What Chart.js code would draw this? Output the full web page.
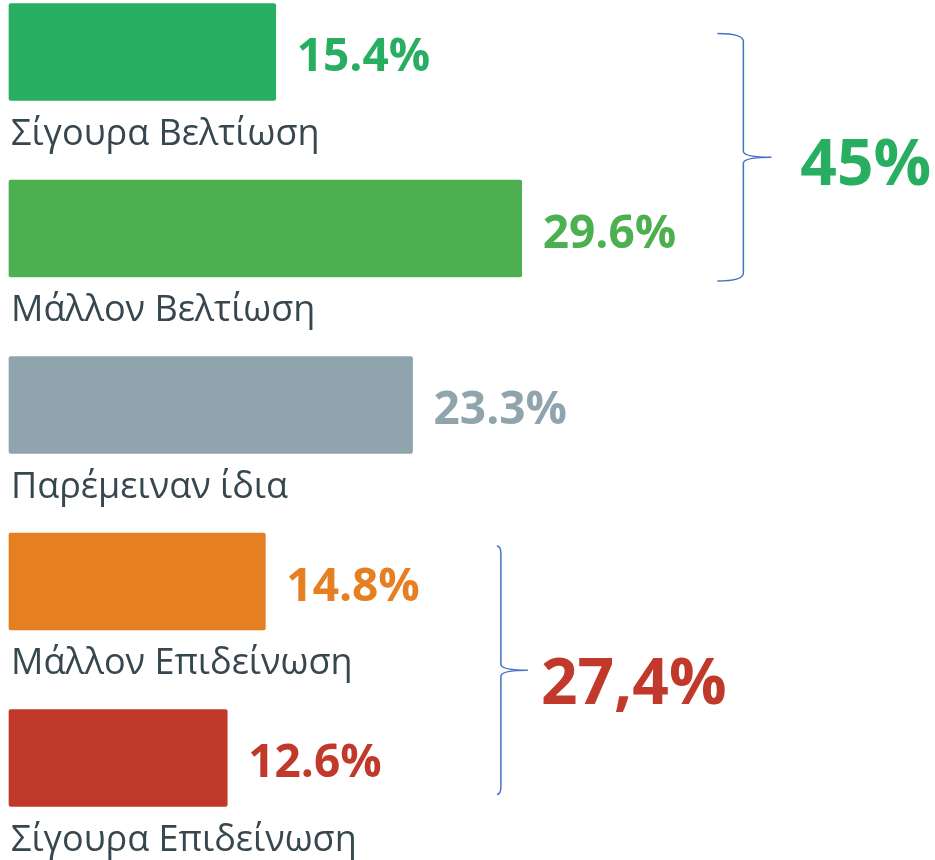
<!DOCTYPE html>
<html>
<head>
<meta charset="utf-8">
<script src="https://cdn.jsdelivr.net/npm/chart.js@4/dist/chart.umd.min.js"></script>
<style>
  html, body { margin: 0; padding: 0; background: #fff; }
  #wrap { width: 935px; height: 860px; }
</style>
</head>
<body>
<div id="wrap"><canvas id="myChart"></canvas></div>
<script>
// data
const categories = ["Σίγουρα Βελτίωση", "Μάλλον Βελτίωση", "Παρέμειναν ίδια", "Μάλλον Επιδείνωση", "Σίγουρα Επιδείνωση"];
const values = [15.4, 29.6, 23.3, 14.8, 12.6];
const valueLabels = ["15.4%", "29.6%", "23.3%", "14.8%", "12.6%"];
const barColors = ["#27ae60", "#4caf50", "#90a4ae", "#e67e22", "#c0392b"];
const groupFrom = [0, 3];
const groupTo = [1, 4];
const groupTotals = ["45%", "27,4%"];
const groupColors = ["#27ae60", "#c0392b"];

// brace styling (pixels / data units)
const braceX = [42.4, 28.4];      // x position in data units
const braceCurl = [26, 4];
const braceTip = [28, 27];
const braceTopPad = [-30, -13];
const braceBotPad = [4, -12];
const totalDx = [29, 13];
const totalDy = [28, 34];

const labelsPlugin = {
  id: "labelsPlugin",
  afterDatasetsDraw(chart) {
    const ctx = chart.ctx;
    const meta = chart.getDatasetMeta(0);
    const xs = chart.scales.x;
    ctx.save();
    meta.data.forEach((bar, i) => {
      const half = bar.height / 2;
      // category label under bar
      ctx.font = "36px 'Open Sans'";
      ctx.fillStyle = "#37474f";
      ctx.textAlign = "left";
      ctx.textBaseline = "alphabetic";
      ctx.fillText(categories[i], 11, bar.y + half + 44);
      // value label
      ctx.font = "bold 46px 'Open Sans'";
      ctx.fillStyle = barColors[i];
      ctx.fillText(valueLabels[i], bar.x + 21, bar.y + 19);
    });
    // braces
    groupTotals.forEach((t, g) => {
      const top = meta.data[groupFrom[g]].y - meta.data[groupFrom[g]].height / 2 - braceTopPad[g];
      const bot = meta.data[groupTo[g]].y + meta.data[groupTo[g]].height / 2 + braceBotPad[g];
      const x = xs.getPixelForValue(braceX[g]);
      const mid = (top + bot) / 2;
      const c = braceCurl[g], tip = braceTip[g];
      ctx.strokeStyle = "#4472c4";
      ctx.lineWidth = 1.5;
      ctx.beginPath();
      ctx.moveTo(x - c, top);
      ctx.quadraticCurveTo(x, top, x, top + 8);
      ctx.lineTo(x, mid - 6);
      ctx.quadraticCurveTo(x, mid, x + tip, mid);
      ctx.quadraticCurveTo(x, mid, x, mid + 6);
      ctx.lineTo(x, bot - 8);
      ctx.quadraticCurveTo(x, bot, x - c, bot);
      ctx.stroke();
      ctx.font = "bold 64px 'Open Sans'";
      ctx.fillStyle = groupColors[g];
      ctx.fillText(t, x + tip + totalDx[g], mid + totalDy[g]);
    });
    ctx.restore();
  }
};

new Chart(document.getElementById("myChart").getContext("2d"), {
  type: "bar",
  data: {
    labels: categories,
    datasets: [{
      data: values,
      backgroundColor: barColors,
      barThickness: 97,
      borderRadius: 2,
      borderSkipped: false,
      clip: false
    }]
  },
  options: {
    indexAxis: "y",
    responsive: true,
    maintainAspectRatio: false,
    animation: false,
    layout: { padding: { left: 9, right: 60, top: 52, bottom: 102 } },
    plugins: { legend: { display: false }, tooltip: { enabled: false } },
    scales: {
      x: { min: 0, max: 50, display: false },
      y: { display: false, offset: false, grid: { display: false } }
    }
  },
  plugins: [labelsPlugin]
});
</script>
</body>
</html>
